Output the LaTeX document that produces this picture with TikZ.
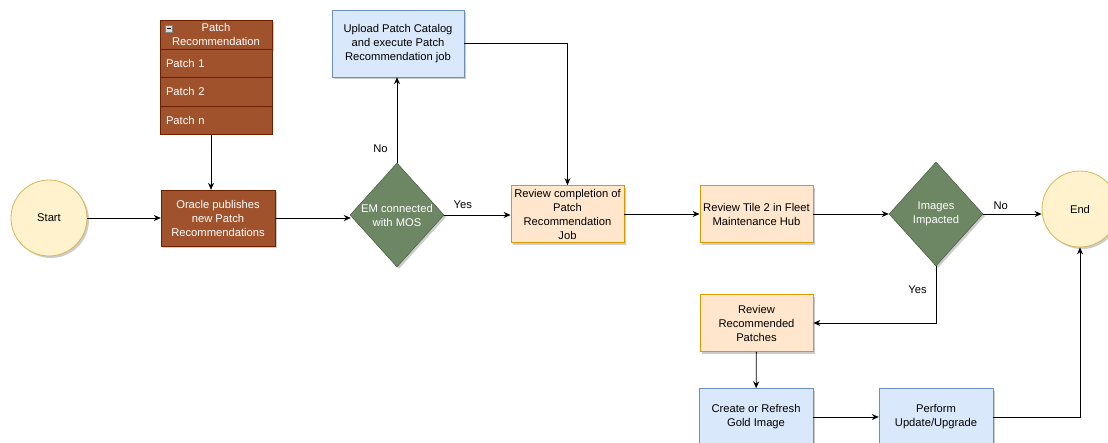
\documentclass[tikz,border=0pt]{standalone}
\usepackage{fontspec}
\setmainfont{Liberation Sans}
\usetikzlibrary{shapes.geometric,arrows.meta,shadows}

\definecolor{termfill}{HTML}{FFF2CC}
\definecolor{termline}{HTML}{D6B656}
\definecolor{brownfill}{HTML}{A0522D}
\definecolor{brownline}{HTML}{6D1F00}
\definecolor{decfill}{HTML}{6D8764}
\definecolor{decline}{HTML}{3A5431}
\definecolor{bluefill}{HTML}{DAE8FC}
\definecolor{blueline}{HTML}{6C8EBF}
\definecolor{orangefill}{HTML}{FFE6CC}
\definecolor{orangeline}{HTML}{D79B00}

\begin{document}
\begin{tikzpicture}[
  x=1pt, y=-1pt,
  font=\fontsize{11.2}{14}\selectfont,
  shade/.style={drop shadow={shadow xshift=2pt, shadow yshift=-2pt, opacity=0.2, fill=black}},
  term/.style={circle, draw=termline, fill=termfill, thick, shade, inner sep=0pt, minimum size=76pt},
  brownbox/.style={rectangle, draw=brownline, fill=brownfill, text=white, shade, inner sep=0pt, align=center, minimum width=114pt, minimum height=56pt},
  rowbox/.style={rectangle, draw=brownline, fill=brownfill, text=white, inner xsep=6pt, inner ysep=0pt, text width=100pt, align=left, minimum height=28.5pt},
  decision/.style={diamond, draw=decline, fill=decfill, text=white, shade, inner sep=-10pt, align=center, minimum width=94pt, minimum height=104pt},
  bluebox/.style={rectangle, draw=blueline, fill=bluefill, shade, inner sep=0pt, align=center, minimum width=114pt, minimum height=57pt},
  orangebox/.style={rectangle, draw=orangeline, fill=orangefill, thick, shade, inner sep=0pt, align=center, minimum width=113pt, minimum height=57pt},
  collapse/.style={rectangle, draw=gray, fill=white!85!black, inner sep=0pt, minimum size=7pt,
    path picture={\draw[black, line width=1pt] ([xshift=1.5pt]path picture bounding box.west) -- ([xshift=-1.5pt]path picture bounding box.east);}},
  lbl/.style={inner sep=0pt},
  arrow/.style={draw=black, line width=0.8pt, -{Stealth[length=7pt, width=6pt]}}
]
  \useasboundingbox (0,0) rectangle (1108,442);

  % patch list
  \node[rowbox, shade, align=center, text width=112pt, inner xsep=0pt] (phead) at (216,34.5) {Patch\\Recommendation};
  \node[collapse] (pmin) at (168.5,28.5) {};
  \node[rowbox] (p1) at (216,63.25) {Patch 1};
  \node[rowbox] (p2) at (216,91.75) {Patch 2};
  \node[rowbox] (pn) at (216,120.25) {Patch n};

  % main flow
  \node[term] (start) at (49,218) {Start};
  \node[brownbox] (oracle) at (218,218) {Oracle publishes\\new Patch\\Recommendations};
  \node[decision] (em) at (397,215) {EM connected\\with MOS};
  \node[bluebox, minimum width=132pt, minimum height=67pt] (upload) at (398,43.5) {Upload Patch Catalog\\and execute Patch\\Recommendation job};
  \node[orangebox] (rc) at (567.5,214) {Review completion of\\Patch\\Recommendation\\Job};
  \node[orangebox] (rt) at (756.5,214) {Review Tile 2 in Fleet\\Maintenance Hub};
  \node[decision] (img) at (936,214) {Images\\Impacted};
  \node[term] (end) at (1080,209) {End};

  % lower branch
  \node[orangebox] (rr) at (756.5,323) {Review\\Recommended\\Patches};
  \node[bluebox] (cg) at (756,417) {Create or Refresh\\Gold Image};
  \node[bluebox] (pu) at (936,417) {Perform\\Update/Upgrade};

  % connectors
  \draw[arrow] (start) -- (oracle);
  \draw[arrow] ([xshift=-5pt]pn.south) -- ([xshift=-5pt]pn.south |- oracle.north);
  \draw[arrow] (oracle.east) -- ([xshift=1pt]em.west |- oracle.east);
  \draw[arrow] (em.north) -- node[lbl, pos=0.17, left=9pt] {No} (em.north |- upload.south);
  \draw[arrow] (upload.east) -| (rc.north);
  \draw[arrow] (em.east) -- node[lbl, pos=0.28, above=6pt] {Yes} (em.east -| rc.west);
  \draw[arrow] (rc) -- (rt);
  \draw[arrow] (rt) -- (img);
  \draw[arrow] (img.east) -- node[lbl, pos=0.3, above=4pt] {No} (img.east -| end.west);
  \draw[arrow] (img.south) |- node[lbl, pos=0.21, left=9pt] {Yes} (rr.east);
  \draw[arrow] (rr) -- (cg);
  \draw[arrow] (cg) -- (pu);
  \draw[arrow] (pu.east) -| (end.south);
\end{tikzpicture}
\end{document}
